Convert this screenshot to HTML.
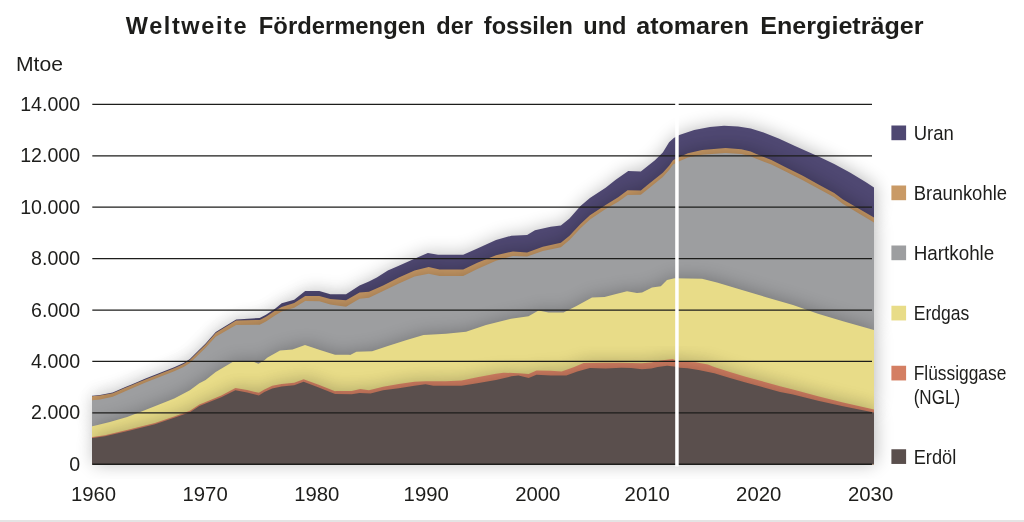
<!DOCTYPE html>
<html lang="de"><head><meta charset="utf-8"><title>Weltweite Fördermengen der fossilen und atomaren Energieträger</title>
<style>html,body{margin:0;padding:0;background:#fff}body{width:1024px;height:522px;position:relative;overflow:hidden}</style></head>
<body>
<svg width="1024" height="522" viewBox="0 0 1024 522" style="position:absolute;left:0;top:0">
<defs><filter id="sh" x="-8%" y="-15%" width="116%" height="130%"><feGaussianBlur stdDeviation="9"/></filter></defs>
<rect x="0" y="520" width="1024" height="2" fill="#e4e4e4"/>
<path d="M92.00 395.70 L92.20 395.70 L100.00 394.96 L112.70 392.49 L119.00 389.86 L125.30 387.03 L131.60 384.40 L138.00 381.66 L144.30 379.03 L150.60 376.50 L157.00 373.99 L163.30 371.47 L174.20 367.25 L183.60 363.03 L189.90 358.92 L197.70 351.30 L205.60 343.56 L215.70 332.02 L236.11 319.46 L259.67 317.89 L265.95 314.75 L275.37 308.47 L281.65 303.29 L294.21 299.83 L305.20 290.88 L319.33 290.88 L330.32 294.34 L346.03 294.34 L359.55 285.45 L368.97 281.53 L376.82 277.60 L387.82 270.53 L398.81 265.82 L414.51 258.76 L427.85 252.95 L438.06 254.83 L463.18 254.83 L477.32 248.55 L496.00 239.92 L511.40 235.74 L527.11 234.96 L534.96 230.25 L550.66 226.79 L560.86 225.53 L569.50 218.47 L580.49 205.91 L589.91 198.06 L605.61 187.85 L615.70 179.87 L628.26 170.92 L640.82 171.55 L654.96 160.25 L662.81 152.39 L669.09 142.19 L673.80 137.95 L679.29 135.12 L694.21 130.10 L709.91 126.96 L724.04 125.70 L738.17 126.49 L750.74 128.53 L763.55 132.56 L779.25 138.84 L794.96 145.91 L810.66 152.97 L818.51 156.43 L834.21 163.96 L849.91 172.60 L865.61 182.02 L874.00 187.52 L874.00 217.50 L843.00 199.50 L834.21 193.01 L818.51 184.38 L802.81 175.74 L787.11 167.89 L771.40 160.04 L755.70 153.76 L750.74 151.61 L741.32 149.25 L725.61 148.00 L702.06 150.04 L687.93 153.18 L679.29 157.11 L673.01 160.25 L669.09 165.74 L662.81 172.81 L647.11 185.37 L640.82 190.39 L627.60 190.21 L618.17 197.27 L605.61 205.12 L589.91 215.33 L580.49 223.96 L569.50 235.74 L560.86 242.81 L542.81 246.73 L527.11 252.54 L512.97 251.44 L496.00 255.15 L477.32 262.68 L463.18 269.44 L439.63 269.44 L428.64 267.08 L414.51 270.53 L398.81 277.60 L383.11 285.45 L368.97 291.73 L359.55 292.52 L346.03 300.15 L330.32 299.05 L319.33 295.91 L305.20 295.91 L294.21 302.97 L281.65 306.90 L275.37 310.51 L265.95 316.79 L259.67 319.93 L236.11 320.56 L215.70 333.12 L205.60 344.40 L197.70 352.30 L189.90 359.90 L183.60 364.00 L174.20 368.20 L163.30 372.40 L157.00 374.90 L150.60 377.40 L144.30 379.90 L138.00 382.50 L131.60 385.20 L125.30 387.80 L119.00 390.60 L112.70 393.20 L100.00 395.60 L92.20 396.30 L92.00 396.30 Z" fill="#000" opacity="0.27" filter="url(#sh)" transform="translate(1.5,-0.5)"/>
<path d="M92.00 464.25 L92.00 395.70 L92.20 395.70 L100.00 394.96 L112.70 392.49 L119.00 389.86 L125.30 387.03 L131.60 384.40 L138.00 381.66 L144.30 379.03 L150.60 376.50 L157.00 373.99 L163.30 371.47 L174.20 367.25 L183.60 363.03 L189.90 358.92 L197.70 351.30 L205.60 343.56 L215.70 332.02 L236.11 319.46 L259.67 317.89 L265.95 314.75 L275.37 308.47 L281.65 303.29 L294.21 299.83 L305.20 290.88 L319.33 290.88 L330.32 294.34 L346.03 294.34 L359.55 285.45 L368.97 281.53 L376.82 277.60 L387.82 270.53 L398.81 265.82 L414.51 258.76 L427.85 252.95 L438.06 254.83 L463.18 254.83 L477.32 248.55 L496.00 239.92 L511.40 235.74 L527.11 234.96 L534.96 230.25 L550.66 226.79 L560.86 225.53 L569.50 218.47 L580.49 205.91 L589.91 198.06 L605.61 187.85 L615.70 179.87 L628.26 170.92 L640.82 171.55 L654.96 160.25 L662.81 152.39 L669.09 142.19 L673.80 137.95 L679.29 135.12 L694.21 130.10 L709.91 126.96 L724.04 125.70 L738.17 126.49 L750.74 128.53 L763.55 132.56 L779.25 138.84 L794.96 145.91 L810.66 152.97 L818.51 156.43 L834.21 163.96 L849.91 172.60 L865.61 182.02 L874.00 187.52 L874.00 464.25 Z" fill="#4f4872"/>
<path d="M92.00 396.30 L92.20 396.30 L100.00 395.60 L112.70 393.20 L119.00 390.60 L125.30 387.80 L131.60 385.20 L138.00 382.50 L144.30 379.90 L150.60 377.40 L157.00 374.90 L163.30 372.40 L174.20 368.20 L183.60 364.00 L189.90 359.90 L197.70 352.30 L205.60 344.40 L215.70 333.12 L236.11 320.56 L259.67 319.93 L265.95 316.79 L275.37 310.51 L281.65 306.90 L294.21 302.97 L305.20 295.91 L319.33 295.91 L330.32 299.05 L346.03 300.15 L359.55 292.52 L368.97 291.73 L383.11 285.45 L398.81 277.60 L414.51 270.53 L428.64 267.08 L439.63 269.44 L463.18 269.44 L477.32 262.68 L496.00 255.15 L512.97 251.44 L527.11 252.54 L542.81 246.73 L560.86 242.81 L569.50 235.74 L580.49 223.96 L589.91 215.33 L605.61 205.12 L618.17 197.27 L627.60 190.21 L640.82 190.39 L647.11 185.37 L662.81 172.81 L669.09 165.74 L673.01 160.25 L679.29 157.11 L687.93 153.18 L702.06 150.04 L725.61 148.00 L741.32 149.25 L750.74 151.61 L755.70 153.76 L771.40 160.04 L787.11 167.89 L802.81 175.74 L818.51 184.38 L834.21 193.01 L843.00 199.50 L874.00 217.50 L874.00 222.50 L843.00 203.96 L834.21 197.32 L818.51 188.73 L802.81 180.14 L787.11 172.34 L771.40 164.54 L755.70 158.42 L750.74 156.33 L741.32 154.08 L725.61 152.99 L702.06 154.64 L687.93 157.53 L679.29 161.31 L673.01 164.41 L669.09 169.88 L662.81 176.91 L647.11 189.73 L640.82 194.86 L627.60 194.90 L618.17 201.64 L605.61 209.03 L589.91 219.40 L580.49 228.14 L569.50 240.04 L560.86 247.20 L542.81 250.92 L527.11 256.54 L512.97 255.94 L496.00 260.65 L477.32 268.97 L463.18 276.03 L439.63 276.04 L428.64 273.68 L414.51 276.56 L398.81 283.40 L383.11 291.05 L368.97 297.76 L359.55 298.82 L346.03 306.65 L330.32 304.57 L319.33 301.19 L305.20 300.91 L294.21 307.68 L281.65 311.60 L275.37 315.21 L265.95 321.49 L259.67 324.63 L236.11 324.96 L215.70 336.85 L205.60 347.63 L197.70 355.42 L189.90 362.90 L183.60 367.03 L174.20 371.27 L163.30 375.51 L157.00 378.04 L150.60 380.57 L144.30 383.09 L138.00 385.75 L131.60 388.50 L125.30 391.16 L119.00 394.02 L112.70 396.68 L100.00 399.38 L92.20 400.29 L92.00 400.29 Z" fill="#000" opacity="0.27" filter="url(#sh)" transform="translate(1.5,-0.5)"/>
<path d="M92.00 464.25 L92.00 396.30 L92.20 396.30 L100.00 395.60 L112.70 393.20 L119.00 390.60 L125.30 387.80 L131.60 385.20 L138.00 382.50 L144.30 379.90 L150.60 377.40 L157.00 374.90 L163.30 372.40 L174.20 368.20 L183.60 364.00 L189.90 359.90 L197.70 352.30 L205.60 344.40 L215.70 333.12 L236.11 320.56 L259.67 319.93 L265.95 316.79 L275.37 310.51 L281.65 306.90 L294.21 302.97 L305.20 295.91 L319.33 295.91 L330.32 299.05 L346.03 300.15 L359.55 292.52 L368.97 291.73 L383.11 285.45 L398.81 277.60 L414.51 270.53 L428.64 267.08 L439.63 269.44 L463.18 269.44 L477.32 262.68 L496.00 255.15 L512.97 251.44 L527.11 252.54 L542.81 246.73 L560.86 242.81 L569.50 235.74 L580.49 223.96 L589.91 215.33 L605.61 205.12 L618.17 197.27 L627.60 190.21 L640.82 190.39 L647.11 185.37 L662.81 172.81 L669.09 165.74 L673.01 160.25 L679.29 157.11 L687.93 153.18 L702.06 150.04 L725.61 148.00 L741.32 149.25 L750.74 151.61 L755.70 153.76 L771.40 160.04 L787.11 167.89 L802.81 175.74 L818.51 184.38 L834.21 193.01 L843.00 199.50 L874.00 217.50 L874.00 464.25 Z" fill="#c99a66"/>
<path d="M92.00 400.29 L92.20 400.29 L100.00 399.38 L112.70 396.68 L119.00 394.02 L125.30 391.16 L131.60 388.50 L138.00 385.75 L144.30 383.09 L150.60 380.57 L157.00 378.04 L163.30 375.51 L174.20 371.27 L183.60 367.03 L189.90 362.90 L197.70 355.42 L205.60 347.63 L215.70 336.85 L236.11 324.96 L259.67 324.63 L265.95 321.49 L275.37 315.21 L281.65 311.60 L294.21 307.68 L305.20 300.91 L319.33 301.19 L330.32 304.57 L346.03 306.65 L359.55 298.82 L368.97 297.76 L383.11 291.05 L398.81 283.40 L414.51 276.56 L428.64 273.68 L439.63 276.04 L463.18 276.03 L477.32 268.97 L496.00 260.65 L512.97 255.94 L527.11 256.54 L542.81 250.92 L560.86 247.20 L569.50 240.04 L580.49 228.14 L589.91 219.40 L605.61 209.03 L618.17 201.64 L627.60 194.90 L640.82 194.86 L647.11 189.73 L662.81 176.91 L669.09 169.88 L673.01 164.41 L679.29 161.31 L687.93 157.53 L702.06 154.64 L725.61 152.99 L741.32 154.08 L750.74 156.33 L755.70 158.42 L771.40 164.54 L787.11 172.34 L802.81 180.14 L818.51 188.73 L834.21 197.32 L843.00 203.96 L874.00 222.50 L874.00 330.00 L843.00 321.25 L818.00 313.75 L793.00 305.00 L767.00 297.50 L742.00 290.00 L717.00 282.50 L702.00 278.75 L674.50 278.25 L667.00 280.00 L660.75 286.25 L652.00 287.50 L642.00 292.50 L637.00 293.00 L627.00 291.25 L617.00 293.75 L604.50 297.00 L592.00 297.50 L576.00 306.25 L563.50 312.50 L548.50 312.50 L538.50 310.50 L528.50 316.25 L511.00 318.75 L486.00 325.00 L466.00 331.75 L446.00 333.75 L423.50 335.00 L406.66 340.00 L387.82 345.97 L372.11 351.31 L356.41 351.78 L350.13 354.92 L349.17 354.71 L335.03 354.71 L320.00 350.00 L305.00 345.00 L292.50 349.50 L280.00 350.50 L267.50 357.50 L264.38 360.21 L258.41 363.82 L253.39 361.78 L232.97 361.78 L215.70 371.98 L205.61 380.04 L199.33 383.18 L189.91 390.25 L174.21 398.41 L158.51 404.69 L142.81 410.97 L127.11 416.94 L109.83 421.96 L92.50 426.25 L92.00 426.25 Z" fill="#000" opacity="0.27" filter="url(#sh)" transform="translate(1.5,-0.5)"/>
<path d="M92.00 464.25 L92.00 400.29 L92.20 400.29 L100.00 399.38 L112.70 396.68 L119.00 394.02 L125.30 391.16 L131.60 388.50 L138.00 385.75 L144.30 383.09 L150.60 380.57 L157.00 378.04 L163.30 375.51 L174.20 371.27 L183.60 367.03 L189.90 362.90 L197.70 355.42 L205.60 347.63 L215.70 336.85 L236.11 324.96 L259.67 324.63 L265.95 321.49 L275.37 315.21 L281.65 311.60 L294.21 307.68 L305.20 300.91 L319.33 301.19 L330.32 304.57 L346.03 306.65 L359.55 298.82 L368.97 297.76 L383.11 291.05 L398.81 283.40 L414.51 276.56 L428.64 273.68 L439.63 276.04 L463.18 276.03 L477.32 268.97 L496.00 260.65 L512.97 255.94 L527.11 256.54 L542.81 250.92 L560.86 247.20 L569.50 240.04 L580.49 228.14 L589.91 219.40 L605.61 209.03 L618.17 201.64 L627.60 194.90 L640.82 194.86 L647.11 189.73 L662.81 176.91 L669.09 169.88 L673.01 164.41 L679.29 161.31 L687.93 157.53 L702.06 154.64 L725.61 152.99 L741.32 154.08 L750.74 156.33 L755.70 158.42 L771.40 164.54 L787.11 172.34 L802.81 180.14 L818.51 188.73 L834.21 197.32 L843.00 203.96 L874.00 222.50 L874.00 464.25 Z" fill="#9d9ea0"/>
<path d="M92.00 426.25 L92.50 426.25 L109.83 421.96 L127.11 416.94 L142.81 410.97 L158.51 404.69 L174.21 398.41 L189.91 390.25 L199.33 383.18 L205.61 380.04 L215.70 371.98 L232.97 361.78 L253.39 361.78 L258.41 363.82 L264.38 360.21 L267.50 357.50 L280.00 350.50 L292.50 349.50 L305.00 345.00 L320.00 350.00 L335.03 354.71 L349.17 354.71 L350.13 354.92 L356.41 351.78 L372.11 351.31 L387.82 345.97 L406.66 340.00 L423.50 335.00 L446.00 333.75 L466.00 331.75 L486.00 325.00 L511.00 318.75 L528.50 316.25 L538.50 310.50 L548.50 312.50 L563.50 312.50 L576.00 306.25 L592.00 297.50 L604.50 297.00 L617.00 293.75 L627.00 291.25 L637.00 293.00 L642.00 292.50 L652.00 287.50 L660.75 286.25 L667.00 280.00 L674.50 278.25 L702.00 278.75 L717.00 282.50 L742.00 290.00 L767.00 297.50 L793.00 305.00 L818.00 313.75 L843.00 321.25 L874.00 330.00 L874.00 409.50 L843.00 402.50 L818.00 396.25 L793.00 389.50 L780.00 386.21 L761.32 381.03 L745.61 376.79 L729.91 372.08 L714.21 366.90 L707.93 364.54 L695.37 362.19 L679.67 361.72 L672.60 359.05 L660.82 360.62 L651.40 362.50 L641.98 363.29 L620.00 362.66 L605.61 362.66 L583.63 362.97 L574.21 366.90 L561.65 371.61 L550.66 370.82 L536.53 370.51 L528.68 373.96 L518.47 373.18 L503.55 372.71 L496.00 373.76 L477.32 377.37 L461.61 380.51 L445.91 381.14 L425.50 381.14 L414.51 381.77 L398.81 383.96 L383.11 386.63 L368.97 390.25 L360.34 388.99 L351.70 391.03 L336.00 391.03 L335.03 391.36 L319.33 385.08 L303.63 379.27 L294.21 382.73 L281.65 383.98 L272.23 385.83 L264.38 389.40 L258.88 392.84 L247.11 389.95 L235.45 388.06 L221.32 395.44 L205.61 402.07 L199.33 404.55 L189.91 410.87 L174.21 416.42 L161.65 420.71 L155.00 423.02 L130.00 429.36 L105.00 435.20 L92.50 437.00 L92.00 437.00 Z" fill="#000" opacity="0.27" filter="url(#sh)" transform="translate(1.5,-0.5)"/>
<path d="M92.00 464.25 L92.00 426.25 L92.50 426.25 L109.83 421.96 L127.11 416.94 L142.81 410.97 L158.51 404.69 L174.21 398.41 L189.91 390.25 L199.33 383.18 L205.61 380.04 L215.70 371.98 L232.97 361.78 L253.39 361.78 L258.41 363.82 L264.38 360.21 L267.50 357.50 L280.00 350.50 L292.50 349.50 L305.00 345.00 L320.00 350.00 L335.03 354.71 L349.17 354.71 L350.13 354.92 L356.41 351.78 L372.11 351.31 L387.82 345.97 L406.66 340.00 L423.50 335.00 L446.00 333.75 L466.00 331.75 L486.00 325.00 L511.00 318.75 L528.50 316.25 L538.50 310.50 L548.50 312.50 L563.50 312.50 L576.00 306.25 L592.00 297.50 L604.50 297.00 L617.00 293.75 L627.00 291.25 L637.00 293.00 L642.00 292.50 L652.00 287.50 L660.75 286.25 L667.00 280.00 L674.50 278.25 L702.00 278.75 L717.00 282.50 L742.00 290.00 L767.00 297.50 L793.00 305.00 L818.00 313.75 L843.00 321.25 L874.00 330.00 L874.00 464.25 Z" fill="#e8dc88"/>
<path d="M92.00 437.00 L92.50 437.00 L105.00 435.20 L130.00 429.36 L155.00 423.02 L161.65 420.71 L174.21 416.42 L189.91 410.87 L199.33 404.55 L205.61 402.07 L221.32 395.44 L235.45 388.06 L247.11 389.95 L258.88 392.84 L264.38 389.40 L272.23 385.83 L281.65 383.98 L294.21 382.73 L303.63 379.27 L319.33 385.08 L335.03 391.36 L336.00 391.03 L351.70 391.03 L360.34 388.99 L368.97 390.25 L383.11 386.63 L398.81 383.96 L414.51 381.77 L425.50 381.14 L445.91 381.14 L461.61 380.51 L477.32 377.37 L496.00 373.76 L503.55 372.71 L518.47 373.18 L528.68 373.96 L536.53 370.51 L550.66 370.82 L561.65 371.61 L574.21 366.90 L583.63 362.97 L605.61 362.66 L620.00 362.66 L641.98 363.29 L651.40 362.50 L660.82 360.62 L672.60 359.05 L679.67 361.72 L695.37 362.19 L707.93 364.54 L714.21 366.90 L729.91 372.08 L745.61 376.79 L761.32 381.03 L780.00 386.21 L793.00 389.50 L818.00 396.25 L843.00 402.50 L874.00 409.50 L874.00 412.50 L843.00 406.25 L818.00 400.75 L793.00 394.50 L780.00 392.02 L761.32 386.84 L745.61 382.60 L729.91 377.89 L714.21 373.18 L698.51 370.04 L687.52 368.16 L679.67 367.68 L674.17 366.43 L667.11 365.64 L657.68 366.90 L651.40 368.47 L641.98 369.25 L630.99 368.00 L621.32 367.68 L605.61 368.47 L589.91 368.00 L577.35 371.61 L566.36 375.53 L550.66 375.53 L536.53 374.75 L528.68 377.89 L518.47 375.53 L511.40 376.32 L496.00 380.04 L477.32 383.18 L461.61 385.85 L433.35 385.85 L425.50 384.28 L414.51 385.85 L398.81 388.36 L383.11 390.25 L370.54 393.39 L359.55 393.07 L351.70 394.17 L335.03 393.96 L319.33 387.68 L303.63 381.87 L294.21 385.33 L281.65 386.58 L272.23 388.47 L264.38 392.08 L258.88 395.53 L247.11 392.39 L235.45 390.25 L221.32 397.31 L205.61 403.59 L199.33 405.95 L189.91 412.23 L174.21 417.72 L161.65 421.96 L155.00 424.25 L130.00 430.50 L105.00 436.25 L92.50 438.00 L92.00 438.00 Z" fill="#000" opacity="0.27" filter="url(#sh)" transform="translate(1.5,-0.5)"/>
<path d="M92.00 464.25 L92.00 437.00 L92.50 437.00 L105.00 435.20 L130.00 429.36 L155.00 423.02 L161.65 420.71 L174.21 416.42 L189.91 410.87 L199.33 404.55 L205.61 402.07 L221.32 395.44 L235.45 388.06 L247.11 389.95 L258.88 392.84 L264.38 389.40 L272.23 385.83 L281.65 383.98 L294.21 382.73 L303.63 379.27 L319.33 385.08 L335.03 391.36 L336.00 391.03 L351.70 391.03 L360.34 388.99 L368.97 390.25 L383.11 386.63 L398.81 383.96 L414.51 381.77 L425.50 381.14 L445.91 381.14 L461.61 380.51 L477.32 377.37 L496.00 373.76 L503.55 372.71 L518.47 373.18 L528.68 373.96 L536.53 370.51 L550.66 370.82 L561.65 371.61 L574.21 366.90 L583.63 362.97 L605.61 362.66 L620.00 362.66 L641.98 363.29 L651.40 362.50 L660.82 360.62 L672.60 359.05 L679.67 361.72 L695.37 362.19 L707.93 364.54 L714.21 366.90 L729.91 372.08 L745.61 376.79 L761.32 381.03 L780.00 386.21 L793.00 389.50 L818.00 396.25 L843.00 402.50 L874.00 409.50 L874.00 464.25 Z" fill="#d47f63"/>
<path d="M92.00 438.00 L92.50 438.00 L105.00 436.25 L130.00 430.50 L155.00 424.25 L161.65 421.96 L174.21 417.72 L189.91 412.23 L199.33 405.95 L205.61 403.59 L221.32 397.31 L235.45 390.25 L247.11 392.39 L258.88 395.53 L264.38 392.08 L272.23 388.47 L281.65 386.58 L294.21 385.33 L303.63 381.87 L319.33 387.68 L335.03 393.96 L351.70 394.17 L359.55 393.07 L370.54 393.39 L383.11 390.25 L398.81 388.36 L414.51 385.85 L425.50 384.28 L433.35 385.85 L461.61 385.85 L477.32 383.18 L496.00 380.04 L511.40 376.32 L518.47 375.53 L528.68 377.89 L536.53 374.75 L550.66 375.53 L566.36 375.53 L577.35 371.61 L589.91 368.00 L605.61 368.47 L621.32 367.68 L630.99 368.00 L641.98 369.25 L651.40 368.47 L657.68 366.90 L667.11 365.64 L674.17 366.43 L679.67 367.68 L687.52 368.16 L698.51 370.04 L714.21 373.18 L729.91 377.89 L745.61 382.60 L761.32 386.84 L780.00 392.02 L793.00 394.50 L818.00 400.75 L843.00 406.25 L874.00 412.50 L874.00 464.25 L92.00 464.25 Z" fill="#000" opacity="0.27" filter="url(#sh)" transform="translate(1.5,-0.5)"/>
<path d="M92.00 464.25 L92.00 438.00 L92.50 438.00 L105.00 436.25 L130.00 430.50 L155.00 424.25 L161.65 421.96 L174.21 417.72 L189.91 412.23 L199.33 405.95 L205.61 403.59 L221.32 397.31 L235.45 390.25 L247.11 392.39 L258.88 395.53 L264.38 392.08 L272.23 388.47 L281.65 386.58 L294.21 385.33 L303.63 381.87 L319.33 387.68 L335.03 393.96 L351.70 394.17 L359.55 393.07 L370.54 393.39 L383.11 390.25 L398.81 388.36 L414.51 385.85 L425.50 384.28 L433.35 385.85 L461.61 385.85 L477.32 383.18 L496.00 380.04 L511.40 376.32 L518.47 375.53 L528.68 377.89 L536.53 374.75 L550.66 375.53 L566.36 375.53 L577.35 371.61 L589.91 368.00 L605.61 368.47 L621.32 367.68 L630.99 368.00 L641.98 369.25 L651.40 368.47 L657.68 366.90 L667.11 365.64 L674.17 366.43 L679.67 367.68 L687.52 368.16 L698.51 370.04 L714.21 373.18 L729.91 377.89 L745.61 382.60 L761.32 386.84 L780.00 392.02 L793.00 394.50 L818.00 400.75 L843.00 406.25 L874.00 412.50 L874.00 464.25 Z" fill="#5a4f4d"/>
<line x1="92.3" x2="872" y1="104.35" y2="104.35" stroke="#1d1d1b" stroke-width="1.25"/>
<line x1="92.3" x2="872" y1="155.76" y2="155.76" stroke="#1d1d1b" stroke-width="1.25"/>
<line x1="92.3" x2="872" y1="207.18" y2="207.18" stroke="#1d1d1b" stroke-width="1.25"/>
<line x1="92.3" x2="872" y1="258.59" y2="258.59" stroke="#1d1d1b" stroke-width="1.25"/>
<line x1="92.3" x2="872" y1="310.01" y2="310.01" stroke="#1d1d1b" stroke-width="1.25"/>
<line x1="92.3" x2="872" y1="361.42" y2="361.42" stroke="#1d1d1b" stroke-width="1.25"/>
<line x1="92.3" x2="872" y1="412.84" y2="412.84" stroke="#1d1d1b" stroke-width="1.25"/>
<line x1="92.3" x2="872" y1="464.25" y2="464.25" stroke="#1d1d1b" stroke-width="1.4"/>
<rect x="675.2" y="102" width="3.5" height="364.5" fill="#fff"/>
<text x="125.8" y="33.5" font-size="23.5" textLength="120.7" lengthAdjust="spacing" font-weight="bold" font-family="Liberation Sans, sans-serif" fill="#1d1d1b">Weltweite</text>
<text x="258.8" y="33.5" font-size="23.5" textLength="166.7" lengthAdjust="spacingAndGlyphs" font-weight="bold" font-family="Liberation Sans, sans-serif" fill="#1d1d1b">Fördermengen</text>
<text x="436.3" y="33.5" font-size="23.5" textLength="36.7" lengthAdjust="spacingAndGlyphs" font-weight="bold" font-family="Liberation Sans, sans-serif" fill="#1d1d1b">der</text>
<text x="483.8" y="33.5" font-size="23.5" textLength="89.2" lengthAdjust="spacingAndGlyphs" font-weight="bold" font-family="Liberation Sans, sans-serif" fill="#1d1d1b">fossilen</text>
<text x="583.3" y="33.5" font-size="23.5" textLength="43.2" lengthAdjust="spacingAndGlyphs" font-weight="bold" font-family="Liberation Sans, sans-serif" fill="#1d1d1b">und</text>
<text x="636.3" y="33.5" font-size="23.5" textLength="112.7" lengthAdjust="spacingAndGlyphs" font-weight="bold" font-family="Liberation Sans, sans-serif" fill="#1d1d1b">atomaren</text>
<text x="760.3" y="33.5" font-size="23.5" textLength="163.2" lengthAdjust="spacingAndGlyphs" font-weight="bold" font-family="Liberation Sans, sans-serif" fill="#1d1d1b">Energieträger</text>
<text x="16.0" y="71.4" font-size="19.4" textLength="47" lengthAdjust="spacingAndGlyphs" font-family="Liberation Sans, sans-serif" fill="#1d1d1b">Mtoe</text>
<text x="80.1" y="110.8" font-size="19.6" text-anchor="end" font-family="Liberation Sans, sans-serif" fill="#1d1d1b">14.000</text>
<text x="80.1" y="162.3" font-size="19.6" text-anchor="end" font-family="Liberation Sans, sans-serif" fill="#1d1d1b">12.000</text>
<text x="80.1" y="213.7" font-size="19.6" text-anchor="end" font-family="Liberation Sans, sans-serif" fill="#1d1d1b">10.000</text>
<text x="80.1" y="265.1" font-size="19.6" text-anchor="end" font-family="Liberation Sans, sans-serif" fill="#1d1d1b">8.000</text>
<text x="80.1" y="316.6" font-size="19.6" text-anchor="end" font-family="Liberation Sans, sans-serif" fill="#1d1d1b">6.000</text>
<text x="80.1" y="368.0" font-size="19.6" text-anchor="end" font-family="Liberation Sans, sans-serif" fill="#1d1d1b">4.000</text>
<text x="80.1" y="419.4" font-size="19.6" text-anchor="end" font-family="Liberation Sans, sans-serif" fill="#1d1d1b">2.000</text>
<text x="80.1" y="470.9" font-size="19.6" text-anchor="end" font-family="Liberation Sans, sans-serif" fill="#1d1d1b">0</text>
<text x="93.5" y="500.5" font-size="19.5" text-anchor="middle" textLength="45.2" lengthAdjust="spacingAndGlyphs" font-family="Liberation Sans, sans-serif" fill="#1d1d1b">1960</text>
<text x="205.1" y="500.5" font-size="19.5" text-anchor="middle" textLength="45.2" lengthAdjust="spacingAndGlyphs" font-family="Liberation Sans, sans-serif" fill="#1d1d1b">1970</text>
<text x="316.8" y="500.5" font-size="19.5" text-anchor="middle" textLength="45.2" lengthAdjust="spacingAndGlyphs" font-family="Liberation Sans, sans-serif" fill="#1d1d1b">1980</text>
<text x="426.2" y="500.5" font-size="19.5" text-anchor="middle" textLength="45.2" lengthAdjust="spacingAndGlyphs" font-family="Liberation Sans, sans-serif" fill="#1d1d1b">1990</text>
<text x="537.8" y="500.5" font-size="19.5" text-anchor="middle" textLength="45.2" lengthAdjust="spacingAndGlyphs" font-family="Liberation Sans, sans-serif" fill="#1d1d1b">2000</text>
<text x="647.2" y="500.5" font-size="19.5" text-anchor="middle" textLength="45.2" lengthAdjust="spacingAndGlyphs" font-family="Liberation Sans, sans-serif" fill="#1d1d1b">2010</text>
<text x="758.7" y="500.5" font-size="19.5" text-anchor="middle" textLength="45.2" lengthAdjust="spacingAndGlyphs" font-family="Liberation Sans, sans-serif" fill="#1d1d1b">2020</text>
<text x="870.6" y="500.5" font-size="19.5" text-anchor="middle" textLength="45.2" lengthAdjust="spacingAndGlyphs" font-family="Liberation Sans, sans-serif" fill="#1d1d1b">2030</text>
<rect x="891.4" y="125.50" width="14.7" height="14.7" fill="#4f4872"/>
<text x="913.7" y="140.2" font-size="19.3" textLength="40.1" lengthAdjust="spacingAndGlyphs" font-family="Liberation Sans, sans-serif" fill="#1d1d1b">Uran</text>
<rect x="891.4" y="185.50" width="14.7" height="14.7" fill="#c99a66"/>
<text x="913.7" y="200.2" font-size="19.3" textLength="93.3" lengthAdjust="spacingAndGlyphs" font-family="Liberation Sans, sans-serif" fill="#1d1d1b">Braunkohle</text>
<rect x="891.4" y="245.50" width="14.7" height="14.7" fill="#9d9ea0"/>
<text x="913.7" y="260.2" font-size="19.3" textLength="80.6" lengthAdjust="spacingAndGlyphs" font-family="Liberation Sans, sans-serif" fill="#1d1d1b">Hartkohle</text>
<rect x="891.4" y="305.75" width="14.7" height="14.7" fill="#e8dc88"/>
<text x="913.7" y="320.4" font-size="19.3" textLength="55.6" lengthAdjust="spacingAndGlyphs" font-family="Liberation Sans, sans-serif" fill="#1d1d1b">Erdgas</text>
<rect x="891.4" y="365.75" width="14.7" height="14.7" fill="#d47f63"/>
<text x="913.7" y="380.4" font-size="19.3" textLength="92.6" lengthAdjust="spacingAndGlyphs" font-family="Liberation Sans, sans-serif" fill="#1d1d1b">Flüssiggase</text>
<rect x="891.4" y="449.25" width="14.7" height="14.7" fill="#5a4f4d"/>
<text x="913.7" y="463.9" font-size="19.3" textLength="42.6" lengthAdjust="spacingAndGlyphs" font-family="Liberation Sans, sans-serif" fill="#1d1d1b">Erdöl</text>
<text x="913.7" y="404.0" font-size="19.3" textLength="46.4" lengthAdjust="spacingAndGlyphs" font-family="Liberation Sans, sans-serif" fill="#1d1d1b">(NGL)</text>
</svg>
</body></html>
